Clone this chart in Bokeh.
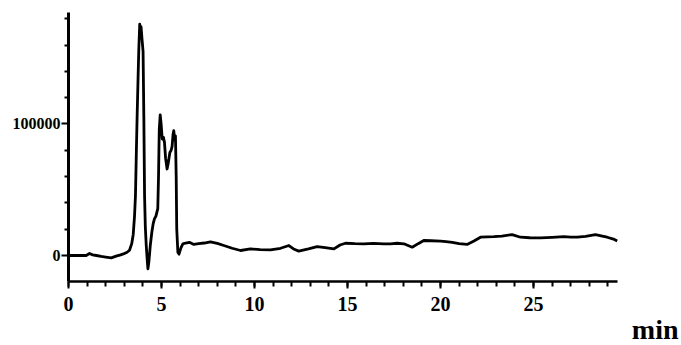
from bokeh.plotting import figure
from bokeh.models import Range1d, SingleIntervalTicker, FixedTicker, NumeralTickFormatter, Label
from bokeh.embed import file_html
from bokeh.resources import INLINE

# retention time (min) and detector response
time_min = [0.0, 0.5, 0.95, 1.13, 1.3, 1.5, 1.76, 2.0, 2.3, 2.56, 2.8, 2.95, 3.15, 3.28,
            3.40, 3.48, 3.55, 3.60, 3.65, 3.69, 3.74, 3.78, 3.83, 3.86, 3.90, 3.95, 4.01,
            4.05, 4.09, 4.13, 4.18, 4.23, 4.27, 4.32, 4.40, 4.48, 4.55, 4.62, 4.70, 4.80,
            4.84, 4.88, 4.93, 4.98, 5.04, 5.10, 5.16, 5.22, 5.30, 5.36, 5.45, 5.52, 5.57,
            5.62, 5.66, 5.71, 5.75, 5.79, 5.82, 5.88, 5.94, 6.05, 6.15, 6.30, 6.50, 6.74,
            7.0, 7.3, 7.63, 8.0, 8.35, 8.8, 9.25, 9.78, 10.3, 10.86, 11.4, 11.85, 12.1,
            12.38, 12.9, 13.37, 13.8, 14.27, 14.6, 14.89, 15.4, 15.88, 16.4, 16.95, 17.31,
            17.67, 18.03, 18.48, 18.8, 19.1, 19.5, 20.0, 20.3, 20.63, 21.0, 21.43, 21.8,
            22.15, 22.5, 22.87, 23.3, 23.85, 24.3, 24.8, 25.38, 26.0, 26.63, 27.0, 27.35,
            27.8, 28.33, 28.7, 28.96, 29.3, 29.5]
signal = [0, 0, 0, 1500, 500, 0, -700, -1200, -1800, -500, 500, 1200, 2500, 4000,
          9000, 16000, 30000, 45500, 80000, 106000, 135000, 157000, 176000, 170000, 174000, 165000, 155000,
          106000, 45000, 22000, 7600, -3000, -10100, -5000, 8000, 17700, 24000, 27900, 30000, 35700,
          60000, 96000, 107000, 100000, 88600, 90000, 86000, 74000, 65800, 70000, 78400, 80000, 83000,
          92000, 95000, 88000, 91000, 60000, 20000, 2500, 1000, 6000, 8900, 9500, 10000, 8400,
          9000, 9500, 10400, 9200, 7600, 5500, 3800, 5000, 4500, 4300, 5500, 7600, 5000,
          3300, 5000, 6800, 6000, 5000, 8000, 9300, 9000, 8900, 9200, 8900, 8900,
          9300, 8900, 6300, 9000, 11400, 11200, 11000, 10500, 10000, 9000, 8400, 11000,
          13900, 14200, 14400, 14800, 15900, 13900, 13500, 13400, 13800, 14400, 14000, 13900,
          14500, 15900, 14800, 13900, 12500, 11000]

y_major_ticks = [0, 100000]
y_minor_ticks = [20000, 40000, 60000, 80000, 120000, 140000, 160000, 180000]
x_unit_label = "min"

# axis extents as drawn in the reference
x_axis_start = 0
x_axis_end = 29.5
y_axis_bottom = -19800
y_axis_top = 184800

FONT = "Liberation Serif"

# the frame fills the whole canvas; both axes are pinned where they cross
p = figure(width=681, height=345, output_backend="svg", toolbar_location=None,
           x_range=Range1d(-3.656, 32.957), y_range=Range1d(-68441, 193916),
           min_border_left=0, min_border_right=0, min_border_top=0, min_border_bottom=0)
p.outline_line_color = None
p.xgrid.visible = False
p.ygrid.visible = False
p.background_fill_color = "white"
p.border_fill_color = "white"

p.line(time_min, signal, line_color="black", line_width=2.8, line_join="round")

# x axis
xa = p.xaxis[0]
xa.fixed_location = y_axis_bottom
xa.bounds = (x_axis_start, x_axis_end)
xa.ticker = SingleIntervalTicker(interval=5, num_minor_ticks=5)
xa.axis_line_width = 2.5
xa.axis_line_color = "black"
xa.major_tick_in = 0
xa.major_tick_out = 7
xa.minor_tick_in = 0
xa.minor_tick_out = 5
xa.major_tick_line_width = 2
xa.minor_tick_line_width = 2
xa.major_tick_line_color = "black"
xa.minor_tick_line_color = "black"
xa.major_label_text_font = FONT
xa.major_label_text_font_style = "bold"
xa.major_label_text_font_size = "20px"
xa.major_label_text_color = "black"
xa.major_label_standoff = 8

# y axis
ya = p.yaxis[0]
ya.fixed_location = x_axis_start
ya.bounds = (y_axis_bottom, y_axis_top)
ya.ticker = FixedTicker(ticks=y_major_ticks, minor_ticks=y_minor_ticks)
ya.formatter = NumeralTickFormatter(format="0")
ya.axis_line_width = 3
ya.axis_line_color = "black"
ya.major_tick_in = 0
ya.major_tick_out = 7
ya.minor_tick_in = 0
ya.minor_tick_out = 4
ya.major_tick_line_width = 2
ya.minor_tick_line_width = 2
ya.major_tick_line_color = "black"
ya.minor_tick_line_color = "black"
ya.major_label_text_font = FONT
ya.major_label_text_font_style = "bold"
ya.major_label_text_font_size = "16px"
ya.major_label_text_color = "black"
ya.major_label_standoff = 1

unit = Label(x=678, y=1, x_units="screen", y_units="screen", text=x_unit_label,
             text_font=FONT, text_font_style="bold", text_font_size="28px",
             text_color="black", text_align="right", text_baseline="bottom")
p.add_layout(unit)

open("out.html", "w").write(file_html(p, INLINE))
